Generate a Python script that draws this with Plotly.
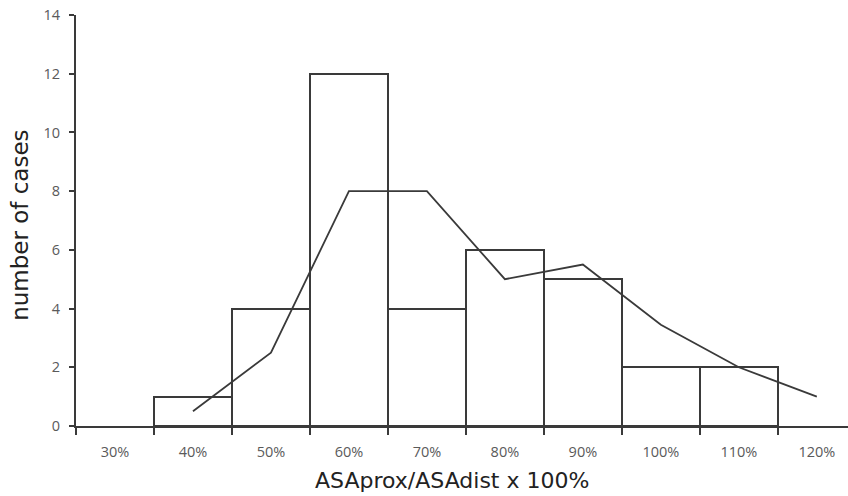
import plotly.graph_objects as go

categories = [30, 40, 50, 60, 70, 80, 90, 100, 110, 120]
tick_labels = ["30%", "40%", "50%", "60%", "70%", "80%", "90%", "100%", "110%", "120%"]
counts = [0, 1, 4, 12, 4, 6, 5, 2, 2, 0]
curve_x = [40, 50, 60, 70, 80, 90, 100, 110, 120]
curve_y = [0.5, 2.5, 8, 8, 5, 5.5, 3.45, 2.0, 1.0]
x_title = "ASAprox/ASAdist x 100%"
y_title = "number of cases"

bx = [c for c, v in zip(categories, counts) if v > 0]
by = [v for v in counts if v > 0]
bin_edges = [c - 5 for c in categories]

LINE = "#3a3a3a"

fig = go.Figure()
fig.add_trace(go.Bar(
    x=bx, y=by, width=10,
    marker=dict(color="white", line=dict(color=LINE, width=2)),
    showlegend=False,
))
fig.add_trace(go.Scatter(
    x=curve_x, y=curve_y, mode="lines",
    line=dict(color=LINE, width=1.8),
    showlegend=False,
))

fig.update_layout(
    width=848, height=496,
    margin=dict(l=76, r=0, t=15, b=70),
    plot_bgcolor="white", paper_bgcolor="white",
    font=dict(family="Open Sans, DejaVu Sans, sans-serif", color="#555"),
    bargap=0,
    annotations=[
        dict(text=x_title, xref="paper", yref="paper", x=0.487, y=0, yshift=-54,
             xanchor="center", yanchor="middle", showarrow=False,
             font=dict(family="DejaVu Sans", size=22, color="#222")),
        dict(text=y_title, xref="paper", yref="paper", x=0, xshift=-56, y=0.487,
             xanchor="center", yanchor="middle", showarrow=False, textangle=-90,
             font=dict(family="DejaVu Sans", size=23, color="#222")),
    ],
)
fig.update_xaxes(
    automargin=False,
    range=[25, 124],
    tickvals=categories, ticktext=tick_labels,
    ticks="", ticklabelstandoff=12, ticklabeloverflow="allow",
    minor=dict(ticks="outside", tickmode="array", tickvals=bin_edges,
               ticklen=7, tickcolor=LINE, tickwidth=2),
    showline=True, linecolor=LINE, linewidth=2,
    showgrid=False, zeroline=False,
    tickfont=dict(size=14.5, color="#5a5a5a"),
)
fig.update_yaxes(
    automargin=False,
    range=[0, 14], tickvals=list(range(0, 15, 2)),
    ticks="outside", ticklen=5, tickcolor=LINE, tickwidth=2,
    ticklabelstandoff=6, ticklabeloverflow="allow",
    showline=True, linecolor=LINE, linewidth=2,
    showgrid=False, zeroline=False,
    tickfont=dict(size=14.5, color="#5a5a5a"),
)

fig.write_html("out.html",
               config={"displayModeBar": False},
               post_script="document.body.style.margin='0';document.body.style.overflow='hidden';")
